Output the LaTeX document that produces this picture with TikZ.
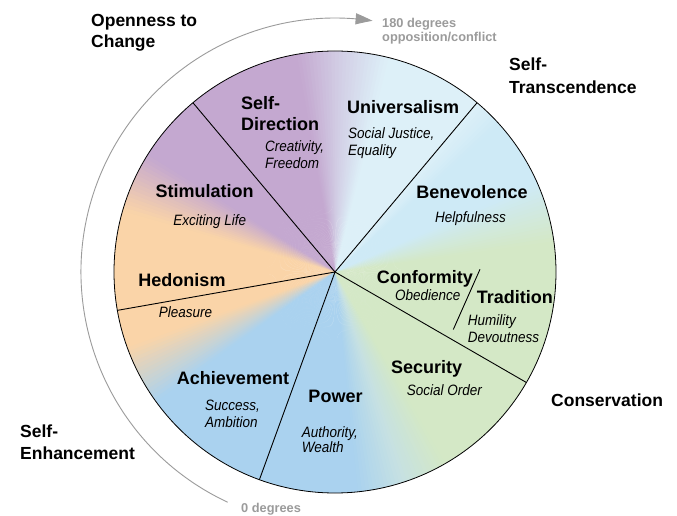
\documentclass[tikz,border=0pt]{standalone}
\usepackage{fontspec}
\setmainfont{Liberation Sans}
\newfontfamily\narrowfont{Liberation Sans}[FakeStretch=0.9]
\usetikzlibrary{arrows.meta,bending}

% wheel colours
\definecolor{wpur}{RGB}{196,168,208}
\definecolor{wlav}{RGB}{211,208,230}
\definecolor{wora}{RGB}{250,212,168}
\definecolor{wblu}{RGB}{170,210,239}
\definecolor{wmid}{RGB}{198,225,226}
\definecolor{wgrn}{RGB}{212,232,198}
\definecolor{wcya}{RGB}{221,240,248}
\definecolor{wcyb}{RGB}{206,234,246}
\definecolor{notegray}{RGB}{155,155,155}

\begin{document}
\begin{tikzpicture}[x=1pt,y=1pt,
  cat/.style={font=\fontsize{17.5}{20}\selectfont\bfseries, inner sep=0pt, anchor=base west},
  val/.style={font=\fontsize{18}{20}\selectfont\bfseries, inner sep=0pt, anchor=base west},
  sub/.style={font=\narrowfont\fontsize{15}{17}\selectfont\itshape, inner sep=0pt, anchor=base west},
  note/.style={font=\fontsize{12.8}{15}\selectfont\bfseries, text=notegray, inner sep=0pt, anchor=base west},
  spoke/.style={draw=black, line width=0.9pt},
  rim/.style={draw=black, line width=0.8pt},
  sweep/.style={draw=notegray, line width=0.9pt, -{Triangle[length=17pt,width=11pt,bend]}},
]
\useasboundingbox (-335,-244) rectangle (342,272);
\fill[white] (-335,-244) rectangle (342,272);

\coordinate (ctr) at (0,0);

% colour wheel: thin wedges with colours blended along the angle
\foreach \s/\e/\ca/\cb in {0/8/wgrn/wgrn, 8/24/wgrn/wcyb, 24/42/wcyb/wcyb, 42/50/wcyb/wcya,
    50/76/wcya/wcya, 76/88/wcya/wlav, 88/100/wlav/wpur, 100/148/wpur/wpur,
    148/164/wpur/wora, 164/200/wora/wora, 200/216/wora/wblu, 216/276/wblu/wblu,
    276/288/wblu/wmid, 288/300/wmid/wgrn, 300/360/wgrn/wgrn}{
  \pgfmathtruncatemacro\n{\e-\s-1}
  \foreach \k in {0,...,\n}{
    \pgfmathsetmacro\a{\s+\k}
    \pgfmathtruncatemacro\p{100*(\e-\a-0.5)/(\e-\s)}
    \fill[fill=\ca!\p!\cb] (ctr) -- (\a:221) arc[start angle=\a, end angle=\a+1.4, radius=221] -- cycle;
  }
}

% sector boundaries
\foreach \ang/\nm in {130/sa, 50/sb, -30/sc, 190/sd, 250/se}
  \coordinate (\nm) at (\ang:221);
\draw[spoke] (ctr) -- (sa);
\draw[spoke] (ctr) -- (sb);
\draw[spoke] (ctr) -- (sc);
\draw[spoke] (ctr) -- (sd);
\draw[spoke] (ctr) -- (se);
\coordinate (ta) at (145,2.7);
\coordinate (tb) at (118.3,-57.5);
\draw[spoke] (ta) -- (tb);
\draw[rim] (ctr) circle[radius=221];

% sweep from 0 to 180 degrees
\coordinate (arcstart) at (245:254);
\draw[sweep] (arcstart) arc[start angle=245, end angle=81.5, radius=254];

% higher-order groups
\node[cat] (open1) at (-244,245.7) {Openness to};
\node[cat] (open2) at (-244,224.3) {Change};
\node[cat] (trans1) at (174,201) {Self-};
\node[cat] (trans2) at (174,178.7) {Transcendence};
\node[cat] (cons) at (216,-134.7) {Conservation};
\node[cat] (enh1) at (-315,-165.7) {Self-};
\node[cat] (enh2) at (-315,-187.3) {Enhancement};

% values
\node[val] (sd1) at (-94,162.5) {Self-};
\node[val] (sd2) at (-94,141.5) {Direction};
\node[sub] (sd3) at (-70,120.7) {Creativity,};
\node[sub] (sd4) at (-70,103.7) {Freedom};
\node[val] (un1) at (12,158.5) {Universalism};
\node[sub] (un2) at (13,133.7) {Social Justice,};
\node[sub] (un3) at (13,116.7) {Equality};
\node[val, anchor=base] (be1) at (137,73.5) {Benevolence};
\node[sub, anchor=base] (be2) at (135.5,49.7) {Helpfulness};
\node[val, anchor=base] (st1) at (-130.3,74.8) {Stimulation};
\node[sub, anchor=base] (st2) at (-125.3,46) {Exciting Life};
\node[val, anchor=base] (he1) at (-153,-14.5) {Hedonism};
\node[sub, anchor=base] (he2) at (-149.5,-45.6) {Pleasure};
\node[val, anchor=base] (ac1) at (-102,-112.2) {Achievement};
\node[sub] (ac2) at (-130,-138.3) {Success,};
\node[sub] (ac3) at (-130,-155) {Ambition};
\node[val] (po1) at (-26.7,-130.5) {Power};
\node[sub] (po2) at (-33.3,-165) {Authority,};
\node[sub] (po3) at (-33.3,-180) {Wealth};
\node[val] (co1) at (41.7,-11.2) {Conformity};
\node[sub] (co2) at (60,-29) {Obedience};
\node[val] (tr1) at (141.7,-31.2) {Tradition};
\node[sub] (tr2) at (132.7,-53.3) {Humility};
\node[sub] (tr3) at (132.7,-71) {Devoutness};
\node[val] (se1) at (56,-101.8) {Security};
\node[sub] (se2) at (71.7,-123.3) {Social Order};

% angle notes
\node[note] (n180a) at (47,244.3) {180 degrees};
\node[note] (n180b) at (47,230.5) {opposition/conflict};
\node[note] (n0) at (-94,-240.5) {0 degrees};
\end{tikzpicture}
\end{document}
